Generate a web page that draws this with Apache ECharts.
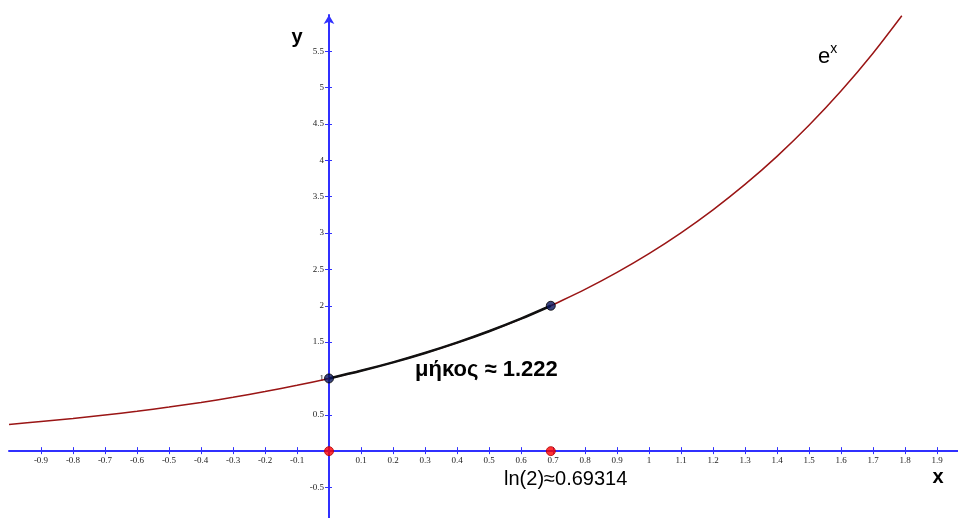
<!DOCTYPE html>
<html><head><meta charset="utf-8">
<script src="https://cdn.jsdelivr.net/npm/echarts@6/dist/echarts.min.js"></script>
<style>html,body{margin:0;padding:0;background:#fff}#c{width:958px;height:518px}</style>
</head><body><div id="c"></div>
<script>
// curve y = e^x
const curveX = [-1.0,-0.9,-0.8,-0.7,-0.6,-0.5,-0.4,-0.3,-0.2,-0.1,0.0,0.1,0.2,0.3,0.4,0.5,0.6,0.69314,0.7,0.8,0.9,1.0,1.1,1.2,1.3,1.4,1.5,1.6,1.7,1.79];
const curveY = [0.368,0.407,0.449,0.497,0.549,0.607,0.670,0.741,0.819,0.905,1.0,1.105,1.221,1.350,1.492,1.649,1.822,2.0,2.014,2.226,2.460,2.718,3.004,3.320,3.669,4.055,4.482,4.953,5.474,5.989];
// arc segment from 0 to ln2
const arcStart = 0.0, arcEnd = 0.69314;
const curvePoints = [[0.0,1.0],[0.69314,2.0]];
const axisPoints = [[0.0,0.0],[0.69314,0.0]];
const xTickValues = [-0.9,-0.8,-0.7,-0.6,-0.5,-0.4,-0.3,-0.2,-0.1,0.1,0.2,0.3,0.4,0.5,0.6,0.7,0.8,0.9,1.0,1.1,1.2,1.3,1.4,1.5,1.6,1.7,1.8,1.9];
const yTickValues = [-0.5,0.5,1.0,1.5,2.0,2.5,3.0,3.5,4.0,4.5,5.0,5.5];
const annotations = [
  {text:'{b|y}', x:-0.1, y:5.69, align:'center'},
  {text:'{b|x}', x:1.903, y:-0.36, align:'center'},
  {text:'{e|e}{s|x}', x:1.528, y:5.45, align:'left'},
  {text:'{m|μήκος ≈ 1.222}', x:0.269, y:1.114, align:'left'},
  {text:'{l|ln(2)≈0.69314}', x:0.547, y:-0.385, align:'left'}
];
const X_MIN=-1.0, X_MAX=1.9656, Y_MIN=-0.92, Y_MAX=6.0;
const AXIS_COLOR='#3030ff', CURVE_COLOR='#9a1515';
const GRID = {left:9,right:0,top:15,bottom:0};
const W = 958, H = 518;

const fullData = curveX.map((x,i)=>[x,curveY[i]]);
const arcData = fullData.filter(p=>p[0]>=arcStart-1e-9 && p[0]<=arcEnd+1e-9);
const fmt = v => String(+(+v).toFixed(2));
const labelFont = {fontFamily:'Liberation Serif', fontSize:9, color:'#222'};

const chart = echarts.init(document.getElementById('c'), null, {renderer:'canvas'});
const xBase = {type:'value', min:X_MIN, max:X_MAX, splitLine:{show:false}};
const yBase = {type:'value', min:Y_MIN, max:Y_MAX, splitLine:{show:false}};
function build(off){
  return {
  animation:false,
  grid:Object.assign({containLabel:false,outerBoundsMode:'none'},GRID),
  xAxis:[
    Object.assign({}, xBase, {position:'bottom', offset:off.xb,
      axisLine:{show:true,onZero:false,lineStyle:{color:AXIS_COLOR,width:2}},
      axisTick:{show:true,length:3,inside:false,customValues:xTickValues,lineStyle:{color:AXIS_COLOR,width:1}},
      axisLabel:Object.assign({show:true,margin:5,customValues:xTickValues,formatter:fmt},labelFont)}),
    Object.assign({}, xBase, {position:'top', offset:off.xt,
      axisLine:{show:false,onZero:false},
      axisTick:{show:true,length:4,inside:false,customValues:xTickValues,lineStyle:{color:AXIS_COLOR,width:1}},
      axisLabel:{show:false}})
  ],
  yAxis:[
    Object.assign({}, yBase, {position:'left', offset:off.yl,
      axisLine:{show:true,onZero:false,symbol:['none','arrow'],symbolSize:[8,9],lineStyle:{color:AXIS_COLOR,width:2}},
      axisTick:{show:true,length:4,inside:false,customValues:yTickValues,lineStyle:{color:AXIS_COLOR,width:1}},
      axisLabel:Object.assign({show:true,margin:5,customValues:yTickValues,formatter:fmt},labelFont)}),
    Object.assign({}, yBase, {position:'right', offset:off.yr,
      axisLine:{show:false,onZero:false},
      axisTick:{show:true,length:3,inside:false,customValues:yTickValues,lineStyle:{color:AXIS_COLOR,width:1}},
      axisLabel:{show:false}})
  ],
  series:[
    {type:'line', data:fullData, smooth:0.3, symbol:'none', lineStyle:{color:CURVE_COLOR,width:1.5}, z:3},
    {type:'line', data:arcData, smooth:0.3, symbol:'none', lineStyle:{color:'#111',width:2.5}, z:4},
    {type:'scatter', data:curvePoints, symbol:'circle', symbolSize:9, itemStyle:{color:'#0a155e',borderColor:'#000',borderWidth:1}, z:6},
    {type:'scatter', data:axisPoints, symbol:'circle', symbolSize:9, itemStyle:{color:'#ff0000',borderColor:'#b00000',borderWidth:1}, z:6}
  ]};
}
chart.setOption(build({xb:0,xt:0,yl:0,yr:0}));
const o = chart.convertToPixel({xAxisIndex:0,yAxisIndex:0},[0,0]);
chart.setOption(build({
  xb: o[1] - (H - GRID.bottom),
  xt: GRID.top - o[1],
  yl: GRID.left - o[0],
  yr: o[0] - (W - GRID.right)
}));
const rich = {
  b:{fontFamily:'Liberation Sans',fontSize:20,fontWeight:'bold',color:'#000'},
  e:{fontFamily:'Liberation Sans',fontSize:22,color:'#000',verticalAlign:'bottom'},
  s:{fontFamily:'Liberation Sans',fontSize:14,color:'#000',verticalAlign:'top',padding:[0,0,12,0]},
  m:{fontFamily:'Liberation Sans',fontSize:22,fontWeight:'bold',color:'#111'},
  l:{fontFamily:'Liberation Sans',fontSize:20,color:'#111'}
};
chart.setOption({graphic: annotations.map(a=>{
  const p = chart.convertToPixel({xAxisIndex:0,yAxisIndex:0},[a.x,a.y]);
  return {type:'text', x:p[0], y:p[1], z:10, style:{text:a.text, rich:rich, align:a.align, verticalAlign:'middle'}};
})});
</script></body></html>
